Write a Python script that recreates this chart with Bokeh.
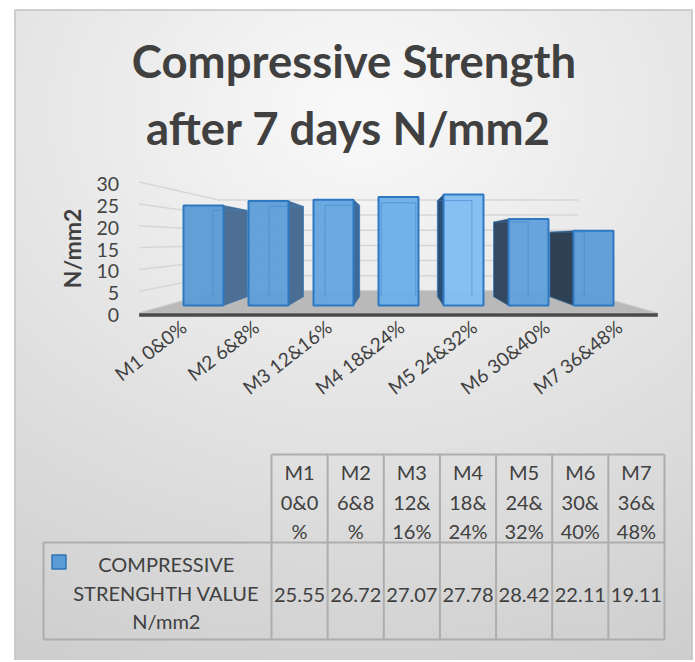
import numpy as np
from bokeh.plotting import figure
from bokeh.models import Range1d
from bokeh.core.properties import value
from bokeh.embed import file_html
from bokeh.resources import INLINE

# ---------------- data ----------------
categories = ["M1 0&0%", "M2 6&8%", "M3 12&16%", "M4 18&24%",
              "M5 24&32%", "M6 30&40%", "M7 36&48%"]
strength = [25.55, 26.72, 27.07, 27.78, 28.42, 22.11, 19.11]
y_ticks = [0, 5, 10, 15, 20, 25, 30]
title_lines = ["Compressive Strength", "after  7 days N/mm2"]
axis_title = "N/mm2"
series_lines = ["COMPRESSIVE", "STRENGHTH VALUE", "N/mm2"]

# ---------------- styles / layout ----------------
W, H = 693, 660
FONT = value("Lato")
TXT = "#404040"
front_colors = ["#5e9cd6", "#609fd9", "#66a6df", "#6eaee8", "#82bdf2", "#62a1db", "#5e9dd7"]
side_colors = ["#4d6f93", "#496d93", "#3f6a97", "#3f6a97", "#2d4e73", "#34495f", "#2f4155"]

BAR0_X, SLOT = 203.0, 65.0      # screen x of first bar centre, slot width
BASE_Y, PPU = 305.0, 3.91       # screen y of bar base, pixels per unit
VP_I, VP_V = 3.0, 16.62         # vanishing point in bar-plane data units
K_FRONT, K_BBACK, K_WALL = 1.1176, 0.864, 0.775
FLOOR_L, FLOOR_R = -0.57, 6.57
BAR_W = 0.615


def Y(img_y):
    return H - img_y


def proj(i, v, k):
    return VP_I + k * (i - VP_I), VP_V + k * (v - VP_V)


p = figure(width=W, height=H, output_backend="svg", toolbar_location=None,
           x_range=Range1d(0, W), y_range=Range1d(0, H),
           x_axis_location=None, y_axis_location=None, min_border=0)
p.grid.visible = False
p.outline_line_color = None
p.background_fill_color = "white"
p.border_fill_color = "white"
p.extra_x_ranges = {"cat": Range1d((0 - BAR0_X) / SLOT, (W - BAR0_X) / SLOT)}
p.extra_y_ranges = {"val": Range1d((BASE_Y - H) / PPU, (BASE_Y - 0) / PPU)}
C = dict(x_range_name="cat", y_range_name="val")

# ---------------- background ----------------
nx, ny = 170, 165
xs = np.linspace(14, 692, nx)
ys = np.linspace(H, 9, ny)
XX, YY = np.meshgrid(xs, ys)
d = np.sqrt(((XX - 360) / 1.25) ** 2 + (YY - 110) ** 2)
g = np.clip(250 - 0.072 * d, 196, 250).astype(np.uint32)
img = (np.uint32(255) << 24) | (g << 16) | (g << 8) | g
p.image_rgba(image=[img.astype(np.uint32)], x=14, y=0, dw=692 - 14, dh=H - 9)
p.line(x=[14.5, 14.5, 691.5, 691.5], y=[0, Y(9.5), Y(9.5), 0],
       line_color="#c3c3c3", line_width=1.5)

# ---------------- titles ----------------
p.text(x=[353.5, 353.5], y=[Y(60), Y(127)], text=title_lines, text_font=FONT,
       text_font_style="bold", text_font_size="45.5px", text_color=TXT,
       text_align="center", text_baseline="middle")
p.text(x=[71], y=[Y(248)], text=[axis_title], angle=np.pi / 2, text_font=FONT,
       text_font_style="bold", text_font_size="23px", text_color=TXT,
       text_align="center", text_baseline="middle")

# ---------------- walls gridlines ----------------
gx, gy = [], []
for v in y_ticks:
    a = proj(FLOOR_L, v, K_FRONT)
    b = proj(FLOOR_L, v, K_WALL)
    c = proj(FLOOR_R, v, K_WALL)
    gx.append([a[0], b[0], c[0]])
    gy.append([a[1], b[1], c[1]])
p.multi_line(xs=gx, ys=gy, line_color="#d6d6d6", line_width=1.5, **C)

# ---------------- floor ----------------
fl = [proj(FLOOR_L, 0, K_FRONT), proj(FLOOR_R, 0, K_FRONT),
      proj(FLOOR_R, 0, K_WALL), proj(FLOOR_L, 0, K_WALL)]
p.patch(x=[q[0] for q in fl], y=[q[1] for q in fl], fill_color="#b9b9b9",
        line_color="#c4c4c4", line_width=1, **C)
band = [proj(FLOOR_L, 0, K_FRONT), proj(FLOOR_R, 0, K_FRONT),
        proj(FLOOR_R, -0.85, K_FRONT), proj(FLOOR_L, -0.85, K_FRONT)]
p.patch(x=[q[0] for q in band], y=[q[1] for q in band], fill_color="#4a4a4a",
        line_color=None, **C)

# ---------------- y tick labels ----------------
tx = [proj(FLOOR_L, v, K_FRONT)[0] for v in y_ticks]
ty = [proj(FLOOR_L, v, K_FRONT)[1] for v in y_ticks]
p.text(x=tx, y=ty, text=[str(v) for v in y_ticks], x_offset=-20, y_offset=2,
       text_font=FONT, text_font_size="19.5px", text_color="#444444",
       text_align="right", text_baseline="middle", **C)

# ---------------- bars ----------------
idx = list(range(len(categories)))
sx, sy, scol = [], [], []
bx, by = [], []
for i, h in zip(idx, strength):
    if abs(i - VP_I) > 0.01:
        e = i + BAR_W / 2 if i < VP_I else i - BAR_W / 2
        q1, q2 = proj(e, h, K_BBACK), proj(e, 0, K_BBACK)
        sx.append([e, e, q1[0], q2[0]])
        sy.append([0, h, q1[1], q2[1]])
        scol.append(side_colors[i])
    corners = [proj(i - BAR_W / 2, 0, K_BBACK), proj(i - BAR_W / 2, h, K_BBACK),
               proj(i + BAR_W / 2, h, K_BBACK), proj(i + BAR_W / 2, 0, K_BBACK)]
    bx.append([c[0] for c in corners])
    by.append([c[1] for c in corners])
p.patches(xs=sx, ys=sy, fill_color=scol, line_color="#2e6aa8", line_width=1,
          line_alpha=0.6, **C)
p.vbar(x=idx, top=strength, bottom=0, width=BAR_W, fill_color=front_colors,
       fill_alpha=0.97, line_color="#2e78c2", line_width=2, **C)
p.multi_line(xs=bx, ys=by, line_color="#3c84cc", line_alpha=0.55, line_width=1, **C)

# ---------------- category labels ----------------
cx = [proj(i, 0, K_FRONT)[0] for i in idx]
cy = [proj(i, 0, K_FRONT)[1] for i in idx]
p.text(x=cx, y=cy, text=categories, angle=np.deg2rad(38), x_offset=3, y_offset=11,
       text_font=FONT, text_font_size="19px", text_color=TXT,
       text_align="right", text_baseline="middle", **C)

# ---------------- data table ----------------
T_LEFT, T_X0, T_COL = 43.0, 271.0, 56.14
T_TOP, T_MID, T_BOT = 454.0, 542.0, 639.0
colx = [T_X0 + T_COL * k for k in range(len(categories) + 1)]
T_RIGHT = colx[-1]
lx = [[T_X0, T_RIGHT], [T_LEFT, T_RIGHT], [T_LEFT, T_RIGHT], [T_LEFT, T_LEFT]]
ly = [[Y(T_TOP), Y(T_TOP)], [Y(T_MID), Y(T_MID)], [Y(T_BOT), Y(T_BOT)], [Y(T_MID), Y(T_BOT)]]
for x in colx:
    lx.append([x, x])
    ly.append([Y(T_TOP), Y(T_BOT)])
p.multi_line(xs=lx, ys=ly, line_color="#adadad", line_width=2)


def wrap(label):
    head, rest = label.split(" ", 1)
    return [head, rest[:3], rest[3:]]


ccx = [(colx[k] + colx[k + 1]) / 2 for k in range(len(categories))]
hx, hy, ht = [], [], []
for k, lab in enumerate(categories):
    for j, part in enumerate(wrap(lab)):
        hx.append(ccx[k])
        hy.append(Y(471.5 + 29.5 * j))
        ht.append(part)
tstyle = dict(text_font=FONT, text_font_size="20px", text_color=TXT,
              text_align="center", text_baseline="middle")
p.text(x=hx, y=hy, text=ht, **tstyle)
p.text(x=ccx, y=[Y(594)] * len(strength), text=[f"{v:.2f}" for v in strength], **tstyle)
p.text(x=[165.8] * 3, y=[Y(563.5), Y(592), Y(620.5)], text=series_lines, **tstyle)
p.rect(x=[58.5], y=[Y(561.5)], width=14, height=14, fill_color="#5b9bd5",
       line_color="#2e75b6", line_width=1.5)

open("out.html", "w").write(file_html(p, INLINE))
